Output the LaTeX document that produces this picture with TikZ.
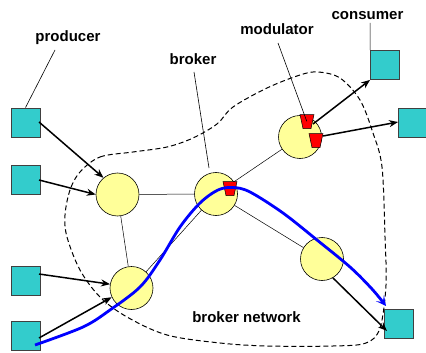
\documentclass[tikz,border=0pt]{standalone}
\usepackage{fontspec}
\setmainfont{Liberation Sans}
\usetikzlibrary{arrows.meta}
\definecolor{sqcol}{HTML}{33CCCC}
\definecolor{brcol}{HTML}{FFFF99}
\definecolor{pathblue}{HTML}{0000FF}
\begin{document}
\begin{tikzpicture}[x=1pt,y=-1pt,
  sq/.style={draw=black!75, fill=sqcol, minimum size=29pt, inner sep=0pt, line width=0.8pt},
  br/.style={circle, draw=black, fill=brcol, minimum size=43pt, inner sep=0pt, line width=0.6pt},
  lab/.style={font=\bfseries\fontsize{15}{17}\selectfont, inner sep=0pt},
  edge/.style={line width=0.5pt},
  arr/.style={line width=1.5pt, -{Stealth[length=9pt,width=7pt]}},
  ptr/.style={line width=0.6pt},
  modbox/.style={draw=black, fill=red, line width=0.5pt},
  blob/.style={dash pattern=on 5pt off 3pt, line width=1pt},
  route/.style={draw=pathblue, line width=2.8pt, -{Stealth[length=10pt,width=10pt,inset=5pt]}}
]
\useasboundingbox (0,0) rectangle (426,353);

% network boundary
\draw[blob] plot[smooth cycle, tension=0.55] coordinates {
 (80,172) (100,157) (133,152) (167,147) (193,138) (217,124) (233,107) (267,88)
 (300,75) (318,72) (340,78) (360,100) (373,133) (382,167) (385,237) (386,285)
 (380,328) (366,343) (333,346) (267,346) (220,343) (167,335) (127,317) (100,297)
 (80,270) (67,237) (65,215) (70,190)};

% producers and consumers
\node[sq] (P1) at (25.5,122.5) {};
\node[sq] (P2) at (25.5,180) {};
\node[sq] (P3) at (25.5,281) {};
\node[sq] (P4) at (25.5,336) {};
\node[sq] (C1) at (385,65) {};
\node[sq] (C2) at (413,122.5) {};
\node[sq] (C3) at (399,323.5) {};

% brokers
\node[br] (B1) at (117.5,194.5) {};
\node[br] (B2) at (131.5,288) {};
\node[br] (B3) at (216,194) {};
\node[br] (B4) at (322,259) {};
\node[br] (B5) at (300,137) {};

% broker links
\draw[edge] (B1) -- (B3);
\draw[edge] (B1) -- (B2);
\draw[edge] (B2) -- (B3);
\draw[edge] (B3) -- (B5);
\draw[edge] (B3) -- (B4);

% modulators
\node[modbox, inner sep=0pt, minimum size=0pt] (T1) at (307,121.5) {};
\node[modbox, inner sep=0pt, minimum size=0pt] (T2) at (316,140.5) {};
\node[modbox, inner sep=0pt, minimum size=0pt] (T3) at (230,188.5) {};
\foreach \t in {T1,T2,T3}{
  \draw[modbox] ([shift={(-7,-7)}]\t.center) -- ([shift={(7,-7)}]\t.center)
     -- ([shift={(4,7)}]\t.center) -- ([shift={(-4,7)}]\t.center) -- cycle;
}

% arrows
\coordinate (P1s) at (39,122);
\coordinate (P2s) at (39,180);
\coordinate (P3s) at (39,274);
\coordinate (P4s) at (39,338);
\draw[arr] (P1s) -- (B1.130);
\draw[arr] (P2s) -- (B1.west);
\draw[arr] (P3s) -- (B2.170);
\draw[arr] (P4s) -- (B2.205);
\coordinate (T1s) at (313,124);
\coordinate (T2s) at (323,136);
\draw[arr] (T1s) -- (C1.south west);
\draw[arr] (T2s) -- ([yshift=0.5pt]C2.west);
\coordinate (C3e) at (387,331);
\draw[arr] (B4.-60) -- (C3e);

% route
\draw[route] plot[smooth, tension=0.55] coordinates {
 (35,345) (83,327) (110,310) (140,287) (160,260) (180,227) (200,203)
 (218,190) (233,187.5) (250,192) (283,213) (317,240) (350,267) (372,289) (386,306)};

% labels
\node[lab] (lp) at (68,37.5) {producer};
\node[lab] (lb) at (193,59) {broker};
\node[lab] (lm) at (277,29.5) {modulator};
\node[lab] (lc) at (367.5,16) {consumer};
\node[lab] (ln) at (246.5,317) {broker network};

\coordinate (lps) at (55,50);
\coordinate (lbs) at (194,72);
\coordinate (lbe) at (209,168);
\coordinate (lms) at (278,43);
\coordinate (lcs) at (370,23);
\draw[ptr] (lps) -- (P1.north);
\draw[ptr] (lbs) -- (lbe);
\draw[ptr] (lms) -- (T1.north west);
\draw[ptr, line width=0.5pt] (lcs) -- (C1.north west);
\end{tikzpicture}
\end{document}
